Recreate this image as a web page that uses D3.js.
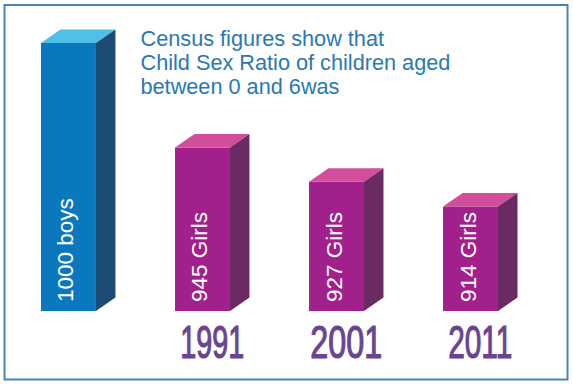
<!DOCTYPE html>
<html>
<head>
<meta charset="utf-8">
<script src="https://cdn.jsdelivr.net/npm/d3@7"></script>
<style>
  html, body { margin: 0; padding: 0; background: #fff; }
  svg { display: block; }
</style>
</head>
<body>
<svg id="viz" width="573" height="384"></svg>
<script>
// Child sex ratio chart
const categories = ['boys', '1991', '2001', '2011'];
const values = [1000, 945, 927, 914];
const barLabels = ['1000 boys', '945 Girls', '927 Girls', '914 Girls'];
const yearLabels = ['', '1991', '2001', '2011'];
const titleLines = [
  'Census figures show that',
  'Child Sex Ratio of children aged',
  'between 0 and 6was'
];

const svg = d3.select('#viz');

// palette: [front, top, side]
const boyColors = ['#0a78be', '#4fc0e9', '#1c4c74'];
const girlColors = ['#a2208b', '#d24e9b', '#6a2b62'];

const depthX = 19.5, depthY = -13.5;

const x = d3.scaleBand().domain(categories).range([41, 498]).paddingInner(0.59).paddingOuter(0);
const y = d3.scaleLinear().domain([859, 1000]).range([311, 43]);

// frame
svg.append('rect')
  .attr('x', 4.5).attr('y', 5).attr('width', 563).attr('height', 374.5)
  .attr('fill', '#fff').attr('stroke', '#4784b6').attr('stroke-width', 2);

const bw = x.bandwidth();
const base = y.domain()[0];

categories.forEach((c, i) => {
  const cols = i === 0 ? boyColors : girlColors;
  const x0 = x(c), x1 = x0 + bw;
  const yt = y(values[i]), yb = y(base);
  const g = svg.append('g');

  g.append('rect').attr('x', x0).attr('y', yt).attr('width', bw).attr('height', yb - yt).attr('fill', cols[0]);
  g.append('path')
    .attr('d', `M${x0},${yt}L${x0 + depthX},${yt + depthY}L${x1 + depthX},${yt + depthY}L${x1},${yt}Z`)
    .attr('fill', cols[1]);
  g.append('path')
    .attr('d', `M${x1},${yt}L${x1 + depthX},${yt + depthY}L${x1 + depthX},${yb + depthY}L${x1},${yb}Z`)
    .attr('fill', cols[2]);

  // rotated value label
  const tx = x0 + bw / 2 + 5, ty = yb - 9;
  g.append('text')
    .attr('transform', `translate(${tx},${ty}) rotate(-90)`)
    .attr('font-family', 'Liberation Sans, Arial, sans-serif')
    .attr('font-size', 22.5)
    .attr('fill', '#fff')
    .text(barLabels[i]);

  if (yearLabels[i]) {
    const len = yearLabels[i].split('').reduce((s, ch) => s + (ch === '1' ? 12 : 20), 0);
    g.append('text')
      .attr('x', x0 + (bw + depthX) / 2)
      .attr('y', 358)
      .attr('text-anchor', 'middle')
      .attr('font-family', 'Liberation Sans Narrow, Arial Narrow, sans-serif')
      .attr('font-size', 46)
      .attr('fill', '#6a4491')
      .attr('stroke', '#6a4491')
      .attr('stroke-width', 1.2)
      .attr('textLength', len)
      .attr('lengthAdjust', 'spacingAndGlyphs')
      .text(yearLabels[i]);
  }
});

// title block
svg.append('g').selectAll('text').data(titleLines).enter().append('text')
  .attr('x', 140.5)
  .attr('y', (d, i) => 46 + i * 24)
  .attr('font-family', 'Liberation Sans, Arial, sans-serif')
  .attr('font-size', 21.7)
  .attr('fill', '#2878b6')
  .text(d => d);
</script>
</body>
</html>
